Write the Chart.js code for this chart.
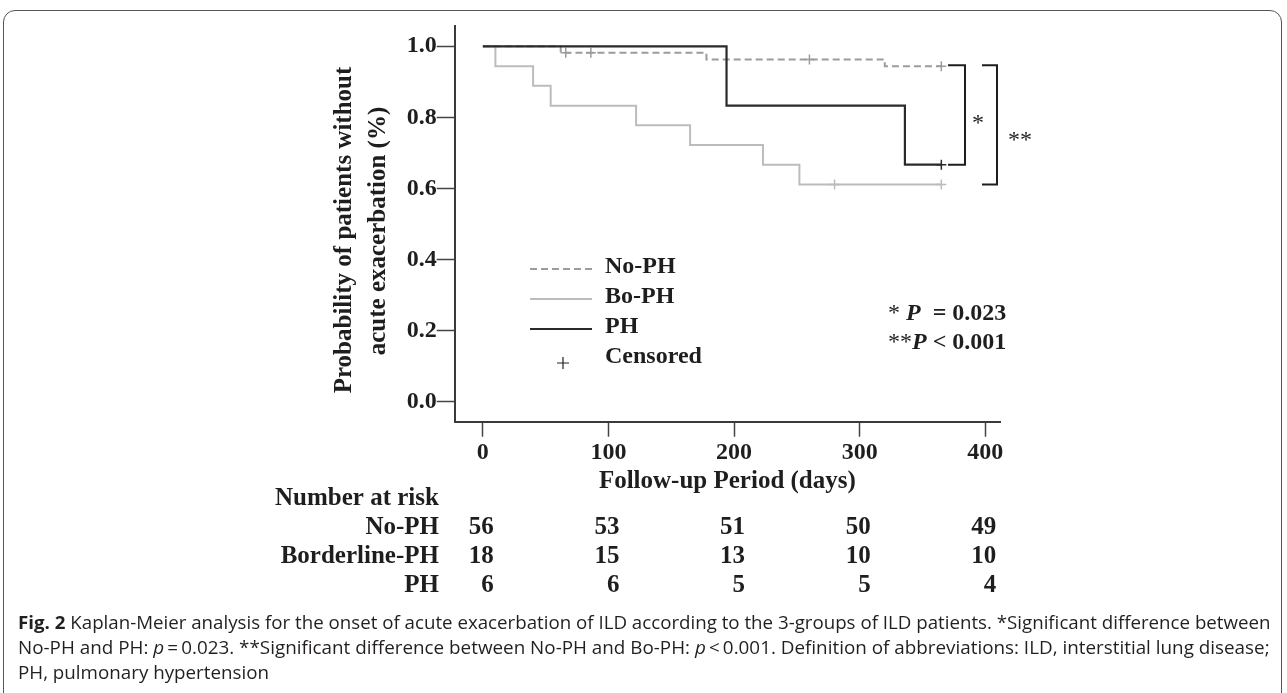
<!DOCTYPE html>
<html><head><meta charset="utf-8">
<script src="https://cdn.jsdelivr.net/npm/chart.js@4/dist/chart.umd.min.js"></script>
<style>
html,body{margin:0;padding:0;background:#fff;}
#wrap{position:relative;width:1287px;height:693px;overflow:hidden;background:#fff;}
#frame{position:absolute;left:3px;top:10px;width:1279px;height:720px;border:1.5px solid #555;border-radius:12px;box-sizing:border-box;}
#c{position:absolute;left:0;top:0;}
#cap{position:absolute;left:18px;top:609.5px;width:1260px;font-family:"Open Sans","Noto Sans","DejaVu Sans",sans-serif;font-size:18px;color:#231f20;}
#cap .ln{white-space:nowrap;height:25px;line-height:25px;}
#cap .ln span{display:inline-block;transform-origin:0 50%;}
#cap b{font-weight:bold;}
</style></head>
<body><div id="wrap">
<div id="frame"></div>
<canvas id="c" width="1287" height="693"></canvas>
<div id="cap">
<div class="ln"><span id="s1"><b>Fig. 2</b> Kaplan-Meier analysis for the onset of acute exacerbation of ILD according to the 3-groups of ILD patients. *Significant difference between</span></div>
<div class="ln"><span id="s2">No-PH and PH: <i>p</i>&#8201;=&#8201;0.023. **Significant difference between No-PH and Bo-PH: <i>p</i>&#8201;&lt;&#8201;0.001. Definition of abbreviations: ILD, interstitial lung disease;</span></div>
<div class="ln"><span id="s3">PH, pulmonary hypertension</span></div>
</div>
</div>
<script>
// ---- data (days, survival probability) ----
const phTimes   = [0, 194, 336, 365];
const phSurv    = [1.0, 0.833, 0.667, 0.667];
const noPhTimes = [0, 62, 178, 320, 365];
const noPhSurv  = [1.0, 0.982, 0.963, 0.944, 0.944];
const boPhTimes = [0, 10, 40, 54, 122, 165, 223, 252, 365];
const boPhSurv  = [1.0, 0.944, 0.889, 0.833, 0.778, 0.722, 0.667, 0.611, 0.611];
const phCensorT   = [365];
const phCensorS   = [0.667];
const noPhCensorT = [66, 86, 260, 365];
const noPhCensorS = [0.982, 0.982, 0.963, 0.944];
const boPhCensorT = [280, 365];
const boPhCensorS = [0.611, 0.611];
const xTicks = [0, 100, 200, 300, 400];
const yTicks = [0, 0.2, 0.4, 0.6, 0.8, 1.0];
const riskTimes  = [0, 100, 200, 300, 400];
const riskGroups = ['No-PH', 'Borderline-PH', 'PH'];
const riskNoPH = [56, 53, 51, 50, 49];
const riskBoPH = [18, 15, 13, 10, 10];
const riskPH   = [6, 6, 5, 5, 4];
const legendNames = ['No-PH', 'Bo-PH', 'PH', 'Censored'];
const yTitle = ['Probability of patients without', 'acute exacerbation (%)'];

const pts = (t, s) => t.map((v, i) => ({x: v, y: s[i]}));
const SERIF = '"Liberation Serif","Times New Roman",serif';
const cPH = '#2a2a2a', cNo = '#9c9c9c', cBo = '#bcbcbc';

// caption: each line fills the text width with natural word spacing
function fitCaption() {
  const full = 1252;
  const s1 = document.getElementById('s1'), s2 = document.getElementById('s2'), s3 = document.getElementById('s3');
  const k1 = full / s1.offsetWidth, k2 = full / s2.offsetWidth;
  s1.style.transform = 'scaleX(' + k1 + ')';
  s2.style.transform = 'scaleX(' + k2 + ')';
  s3.style.transform = 'scaleX(' + ((k1 + k2) / 2) + ')';
}
fitCaption();
if (document.fonts && document.fonts.ready) document.fonts.ready.then(fitCaption);

const overlay = {
  id: 'overlay',
  afterDraw(chart) {
    const ctx = chart.ctx, xs = chart.scales.x, ys = chart.scales.y;
    ctx.save();
    ctx.fillStyle = '#1e1e1e';
    ctx.textBaseline = 'middle';
    // y-axis title
    ctx.font = 'bold 25px ' + SERIF;
    ctx.textAlign = 'center';
    [[345, 230], [379, 231]].forEach((p, i) => {
      ctx.save(); ctx.translate(p[0], p[1]); ctx.rotate(-Math.PI / 2); ctx.fillText(yTitle[i], 0, 0); ctx.restore();
    });
    // legend
    const lx0 = 530, lx1 = 592, tx = 605;
    const rows = [267, 297, 327, 357];
    const styles = [[cNo, [7, 4]], [cBo, []], [cPH, []]];
    ctx.font = 'bold 24px ' + SERIF;
    for (let i = 0; i < 3; i++) {
      ctx.beginPath(); ctx.strokeStyle = styles[i][0]; ctx.lineWidth = 2; ctx.setLineDash(styles[i][1]);
      ctx.moveTo(lx0, rows[i] + 2); ctx.lineTo(lx1, rows[i] + 2); ctx.stroke();
    }
    ctx.setLineDash([]);
    ctx.beginPath(); ctx.strokeStyle = '#222'; ctx.lineWidth = 1.2;
    ctx.moveTo(557, 363); ctx.lineTo(569, 363); ctx.moveTo(563, 357); ctx.lineTo(563, 369); ctx.stroke();
    ctx.textAlign = 'left';
    legendNames.forEach((n, i) => ctx.fillText(n, tx, rows[i]));
    // p-values
    const drawRuns = (x, y, runs) => {
      runs.forEach(r => { ctx.font = r[1] + ' 24px ' + SERIF; ctx.fillText(r[0], x, y); x += ctx.measureText(r[0]).width; });
    };
    drawRuns(888, 314, [['* ', ''], ['P', 'italic bold'], ['  = 0.023', 'bold']]);
    drawRuns(888, 343, [['**', ''], ['P', 'italic bold'], [' < 0.001', 'bold']]);
    // brackets
    const yNo = ys.getPixelForValue(noPhSurv[noPhSurv.length - 1]);
    const yPH = ys.getPixelForValue(phSurv[phSurv.length - 1]);
    const yBo = ys.getPixelForValue(boPhSurv[boPhSurv.length - 1]);
    ctx.strokeStyle = '#1e1e1e'; ctx.lineWidth = 2;
    ctx.beginPath();
    ctx.moveTo(948, yNo - 1); ctx.lineTo(965, yNo - 1); ctx.lineTo(965, yPH); ctx.lineTo(948, yPH);
    ctx.moveTo(982, yNo - 1); ctx.lineTo(997, yNo - 1); ctx.lineTo(997, yBo); ctx.lineTo(982, yBo);
    ctx.stroke();
    ctx.font = '24px ' + SERIF; ctx.textAlign = 'left';
    ctx.fillText('*', 972, 124);
    ctx.fillText('**', 1008, 141);
    // number at risk table
    ctx.font = 'bold 25px ' + SERIF;
    ctx.textAlign = 'left';
    ctx.fillText('Number at risk', 275, 499);
    const tab = [riskNoPH, riskBoPH, riskPH];
    const ry = [528, 557, 586];
    tab.forEach((row, r) => {
      ctx.textAlign = 'right';
      ctx.fillText(riskGroups[r], 439, ry[r]);
      row.forEach((v, k) => ctx.fillText(String(v), xs.getPixelForValue(riskTimes[k]) + 11, ry[r]));
    });
    ctx.restore();
  }
};

new Chart(document.getElementById('c'), {
  type: 'line',
  data: {
    datasets: [
      {label: 'PH', data: pts(phTimes, phSurv), borderColor: cPH, borderWidth: 2.2, stepped: 'before', pointRadius: 0, fill: false},
      {label: 'No-PH', data: pts(noPhTimes, noPhSurv), borderColor: cNo, borderWidth: 2, borderDash: [7, 4], stepped: 'before', pointRadius: 0, fill: false},
      {label: 'Bo-PH', data: pts(boPhTimes, boPhSurv), borderColor: cBo, borderWidth: 2, stepped: 'before', pointRadius: 0, fill: false},
      {label: 'PH censored', data: pts(phCensorT, phCensorS), showLine: false, pointStyle: 'cross', pointRadius: 5, borderColor: cPH, borderWidth: 1.5},
      {label: 'No-PH censored', data: pts(noPhCensorT, noPhCensorS), showLine: false, pointStyle: 'cross', pointRadius: 5, borderColor: cNo, borderWidth: 1.5},
      {label: 'Bo-PH censored', data: pts(boPhCensorT, boPhCensorS), showLine: false, pointStyle: 'cross', pointRadius: 5, borderColor: cBo, borderWidth: 1.5}
    ]
  },
  options: {
    responsive: false, animation: false, devicePixelRatio: 1,
    layout: {padding: {left: 311, top: 26, right: 287, bottom: 196.3}},
    plugins: {legend: {display: false}, tooltip: {enabled: false}},
    elements: {line: {tension: 0}},
    scales: {
      x: {
        type: 'linear', min: -22.4, max: 411.7,
        afterBuildTicks: s => { s.ticks = xTicks.map(v => ({value: v})); },
        afterFit: s => { s.height = 75; },
        grid: {display: true, drawOnChartArea: false, drawTicks: true, tickLength: 15, tickColor: '#444', tickWidth: 1.5},
        border: {display: true, color: '#3a3a3a', width: 2},
        ticks: {color: '#1e1e1e', font: {family: SERIF, size: 24, weight: 'bold'}, padding: 2, maxRotation: 0, callback: v => String(v)},
        title: {display: true, text: 'Follow-up Period (days)', color: '#1e1e1e', font: {family: SERIF, size: 25, weight: 'bold'}, padding: {top: 0, bottom: 0}}
      },
      y: {
        type: 'linear', min: -0.0563, max: 1.0571,
        afterBuildTicks: s => { s.ticks = yTicks.map(v => ({value: v})); },
        afterFit: s => { s.width = 143.7; },
        grid: {display: true, drawOnChartArea: false, drawTicks: true, tickLength: 18, tickColor: '#444', tickWidth: 1.5},
        border: {display: true, color: '#3a3a3a', width: 2},
        ticks: {color: '#1e1e1e', font: {family: SERIF, size: 24, weight: 'bold'}, padding: 0, callback: v => v.toFixed(1)},
        title: {display: false}
      }
    }
  },
  plugins: [overlay]
});
</script>
</body></html>
